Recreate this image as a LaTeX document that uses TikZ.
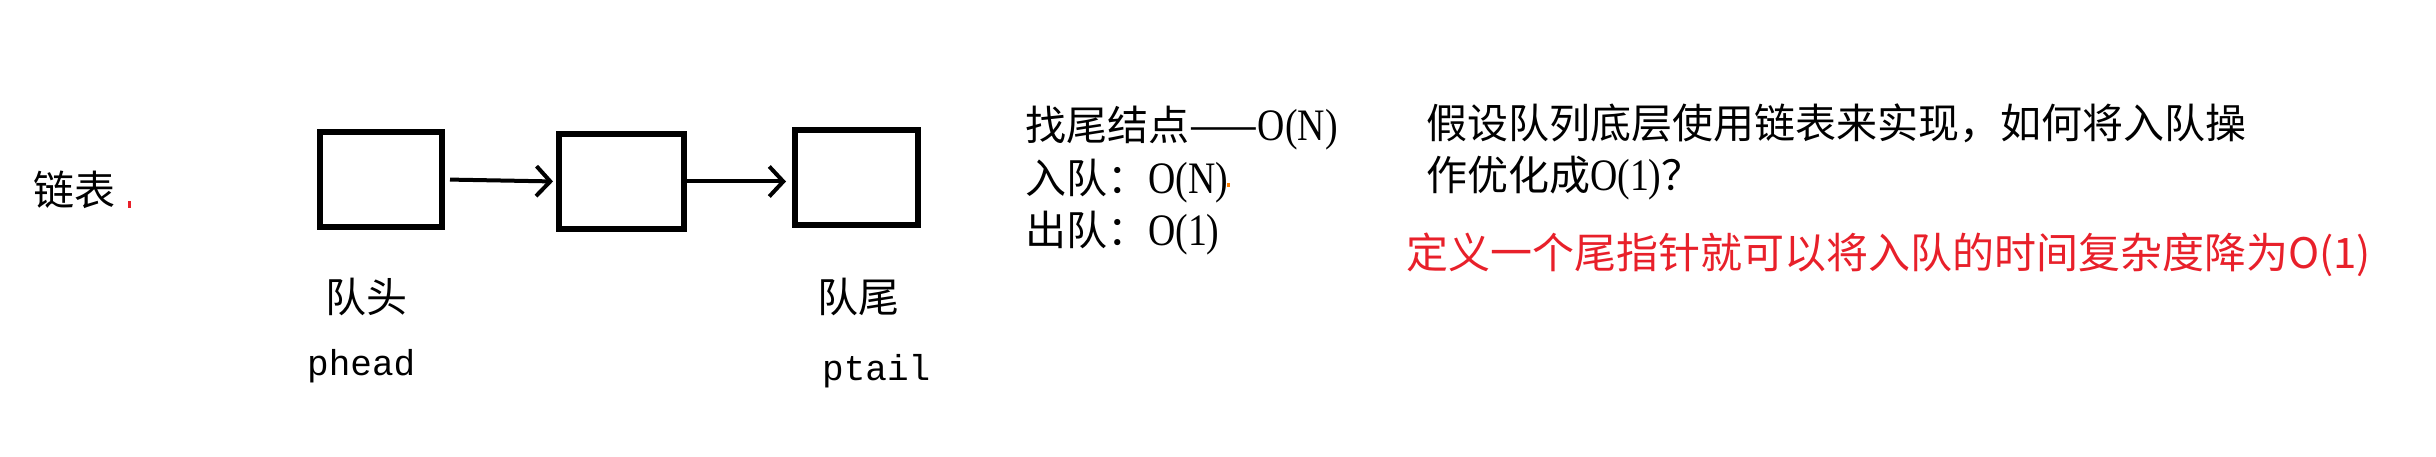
\documentclass[tikz,border=0pt]{standalone}
\usepackage{fontspec}
\usepackage{graphicx}
\setmainfont{Liberation Serif}
\setmonofont{Liberation Mono}
\newfontfamily\cjk{Noto Sans CJK SC}
\usetikzlibrary{arrows.meta}
\definecolor{redtxt}{RGB}{232,32,42}
\newcommand{\latn}[1]{\scalebox{1.05}[1.25]{\rmfamily\fontsize{36}{44}\selectfont #1}}
\tikzset{
  nodebox/.style={draw=black,line width=6pt,minimum height=95pt,inner sep=0pt},
  link/.style={line width=4pt,-{Straight Barb[length=14pt,width=30pt,line width=4pt]}},
  txt/.style={inner sep=0pt,font=\cjk\fontsize{41}{50}\selectfont,anchor=base west},
  lat/.style={inner sep=0pt,font=\ttfamily\fontsize{36}{44}\selectfont,anchor=base west},
  redt/.style={inner sep=0pt,font=\cjk\fontsize{42}{50}\selectfont,anchor=base west,text=redtxt}
}
\begin{document}
\begin{tikzpicture}[x=1pt,y=-1pt]
\useasboundingbox (0,0) rectangle (2436,457);
% nodes
\node[nodebox,minimum width=122pt] (b1) at (381,179.5) {};
\node[nodebox,minimum width=125pt] (b2) at (621.5,181.5) {};
\node[nodebox,minimum width=123pt] (b3) at (856.5,177.5) {};
% links
\draw[link,shorten <=5pt,shorten >=3pt] (b1.east) -- (b2.west);
\draw[link,shorten >=6pt] (b2.east) -- (b2.east -| b3.west);
% labels
\node[txt] (lianbiao) at (33,206) {链表};
\node[txt] (duitou) at (325,312) {队头};
\node[txt] (duiwei) at (817,312) {队尾};
\node[lat] (phead) at (307,375) {phead};
\node[lat] (ptail) at (822,380) {ptail};
% complexity notes
\node[txt] (l1) at (1025,141) {找尾结点——\latn{O(N)}};
\node[txt] (l2) at (1025,194) {入队：\latn{O(N)}};
\node[txt] (l3) at (1025,246) {出队：\latn{O(1)}};
% question
\node[txt] (q1) at (1426,139) {假设队列底层使用链表来实现，如何将入队操};
\node[txt] (q2) at (1426,191) {作优化成\latn{O(1)}？};
% answer
\node[redt] (ans) at (1406,269) {定义一个尾指针就可以将入队的时间复杂度降为O(1)};
% stray marks
\fill[redtxt] (128,201) rectangle (131,208);
\fill[orange] (1227,183) rectangle (1230,187);
\end{tikzpicture}
\end{document}
